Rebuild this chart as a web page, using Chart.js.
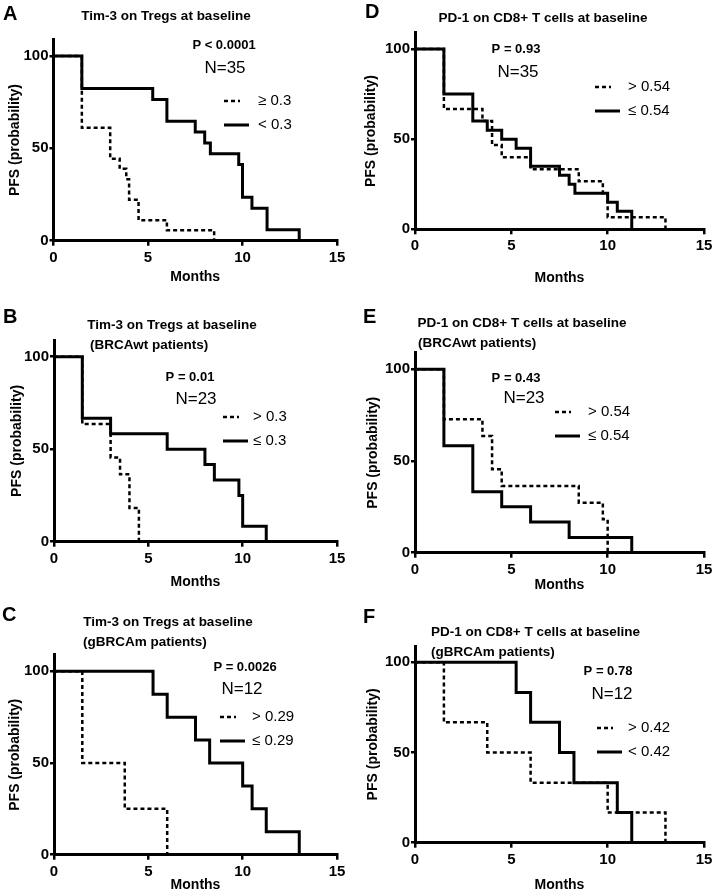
<!DOCTYPE html>
<html>
<head>
<meta charset="utf-8">
<title>PFS by Tim-3 / PD-1 at baseline</title>
<script src="https://cdn.jsdelivr.net/npm/chart.js@4.4.1/dist/chart.umd.min.js"></script>
<style>
	html, body { margin: 0; padding: 0; background: #fff; }
	#wrap { position: relative; width: 716px; height: 895px; overflow: hidden; }
	#wrap canvas { position: absolute; left: 0; top: 0; }
</style>
</head>
<body>
<div id="wrap"></div>
<script>
/* global Chart */
'use strict';

// Axis ticks shared by all six panels.
var monthTicks = [ 0, 5, 10, 15 ];
var pfsTicks   = [ 0, 50, 100 ];

// A - Tim-3 on Tregs, all patients.
var aHighT = [ 0, 1.5, 3, 3.5, 3.85, 4, 4.5, 6, 8.5 ];
var aHighS = [ 100, 61.1, 44.4, 38.9, 33.3, 22.2, 11.1, 5.6, 0 ];
var aLowT  = [ 0, 1.5, 5.25, 6, 7.5, 8, 8.3, 9.8, 10, 10.5, 11.3, 13 ];
var aLowS  = [ 100, 82.4, 76.5, 64.7, 58.8, 52.9, 47.1, 41.2, 23.5, 17.6, 5.9, 0 ];

// D - PD-1 on CD8+ T cells, all patients.
var dHighT = [ 0, 1.5, 3.5, 4, 4.5, 6, 8.5, 9.75, 10, 13 ];
var dHighS = [ 100, 66.7, 60, 46.7, 40, 33.3, 26.7, 20, 6.7, 0 ];
var dLowT  = [ 0, 1.5, 3, 3.75, 4.5, 5.25, 6, 7.5, 8, 8.3, 10, 10.5, 11.25 ];
var dLowS  = [ 100, 75, 60, 55, 50, 45, 35, 30, 25, 20, 15, 10, 0 ];

// B - Tim-3 on Tregs, BRCAwt.
var bHighT = [ 0, 1.5, 3, 3.5, 4, 4.5 ];
var bHighS = [ 100, 63.6, 45.5, 36.4, 18.2, 0 ];
var bLowT  = [ 0, 1.5, 3, 6, 8, 8.5, 9.8, 10, 11.25 ];
var bLowS  = [ 100, 66.7, 58.3, 50, 41.7, 33.3, 25, 8.3, 0 ];

// E - PD-1 on CD8+ T cells, BRCAwt.
var eHighT = [ 0, 1.5, 3.5, 4, 4.5, 8.5, 9.75, 10 ];
var eHighS = [ 100, 72.7, 63.6, 45.5, 36.4, 27.3, 18.2, 0 ];
var eLowT  = [ 0, 1.5, 3, 4.5, 6, 8, 11.25 ];
var eLowS  = [ 100, 58.3, 33.3, 25, 16.7, 8.3, 0 ];

// C - Tim-3 on Tregs, gBRCAm.
var cHighT = [ 0, 1.5, 3.75, 6 ];
var cHighS = [ 100, 50, 25, 0 ];
var cLowT  = [ 0, 5.25, 6, 7.5, 8.25, 10, 10.5, 11.25, 13 ];
var cLowS  = [ 100, 87.5, 75, 62.5, 50, 37.5, 25, 12.5, 0 ];

// F - PD-1 on CD8+ T cells, gBRCAm.
var fHighT = [ 0, 1.5, 3.75, 6, 10, 13 ];
var fHighS = [ 100, 66.7, 50, 33.3, 16.7, 0 ];
var fLowT  = [ 0, 5.25, 6, 7.5, 8.25, 10.5, 11.25 ];
var fLowS  = [ 100, 83.3, 66.7, 50, 33.3, 16.7, 0 ];

// Texts per panel, order A, D, B, E, C, F.
var panelLetters = [ 'A', 'D', 'B', 'E', 'C', 'F' ];
var panelTitles  = [
	[ 'Tim-3 on Tregs at baseline' ],
	[ 'PD-1 on CD8+ T cells at baseline' ],
	[ 'Tim-3 on Tregs at baseline', '(BRCAwt patients)' ],
	[ 'PD-1 on CD8+ T cells at baseline', '(BRCAwt patients)' ],
	[ 'Tim-3 on Tregs at baseline', '(gBRCAm patients)' ],
	[ 'PD-1 on CD8+ T cells at baseline', '(gBRCAm patients)' ]
];
var pValues    = [ 'P < 0.0001', 'P = 0.93', 'P = 0.01', 'P = 0.43', 'P = 0.0026', 'P = 0.78' ];
var nLabels    = [ 'N=35', 'N=35', 'N=23', 'N=23', 'N=12', 'N=12' ];
var highLabels = [ '\u2265 0.3', '> 0.54', '> 0.3', '> 0.54', '> 0.29', '> 0.42' ];
var lowLabels  = [ '< 0.3', '\u2264 0.54', '\u2264 0.3', '\u2264 0.54', '\u2264 0.29', '< 0.42' ];
var yTitle = 'PFS (probability)';
var xTitle = 'Months';

var FAMILY = '"Liberation Sans", Arial, Helvetica, sans-serif';
var PAGE_W = 716;
var PAGE_H = 895;
var Y_MAX  = 109;

// Where each panel sits on the page.
var layouts = [
	{ x0: 53.5, x15: 337, y0: 240.7, y100: 56, yTitleX: 15, monthsY: 277,
		letter: [ 3, 14 ], title: [ [ 166, 16 ] ], p: [ 224, 45 ], n: [ 225, 68 ], legend: [ 224, 101, 258 ] },
	{ x0: 415, x15: 704, y0: 229.3, y100: 49, yTitleX: 371, monthsY: 278,
		letter: [ 365, 12 ], title: [ [ 543, 18 ] ], p: [ 516, 49 ], n: [ 518, 72 ], legend: [ 595, 87, 628 ] },
	{ x0: 54, x15: 337, y0: 541.7, y100: 356.7, yTitleX: 17, monthsY: 582,
		letter: [ 3, 317 ], title: [ [ 172, 325 ], [ 90, 345 ] ], p: [ 190, 377 ], n: [ 196, 399 ], legend: [ 223, 417, 253 ] },
	{ x0: 415, x15: 704, y0: 552.7, y100: 369.3, yTitleX: 373, monthsY: 585,
		letter: [ 363, 317 ], title: [ [ 522, 323 ], [ 418, 343 ] ], p: [ 516, 378 ], n: [ 524, 398 ], legend: [ 555, 412, 588 ] },
	{ x0: 54, x15: 337, y0: 854.7, y100: 671.3, yTitleX: 15, monthsY: 885,
		letter: [ 2, 615 ], title: [ [ 168, 622 ], [ 83, 642 ] ], p: [ 245, 667 ], n: [ 242, 689 ], legend: [ 220, 717, 252 ] },
	{ x0: 415, x15: 704, y0: 842.7, y100: 662.3, yTitleX: 373, monthsY: 885,
		letter: [ 363, 617 ], title: [ [ 535.5, 632 ], [ 431, 652 ] ], p: [ 608, 671 ], n: [ 612, 694 ], legend: [ 597, 728, 628 ] }
];

var series = [
	[ aHighT, aHighS, aLowT, aLowS ],
	[ dHighT, dHighS, dLowT, dLowS ],
	[ bHighT, bHighS, bLowT, bLowS ],
	[ eHighT, eHighS, eLowT, eLowS ],
	[ cHighT, cHighS, cLowT, cLowS ],
	[ fHighT, fHighS, fLowT, fLowS ]
];

function steps( t, s ) {
	return t.map( function ( v, i ) {
		return { x: v, y: s[ i ] };
	} );
}

// Letter, titles, P / N and the small in-plot legend.
var panelText = {
	id: 'panelText',
	afterDraw: function ( chart, args, o ) {
		var ctx = chart.ctx;
		var lay = o.layout;
		ctx.save();
		ctx.fillStyle = '#000';
		ctx.textBaseline = 'middle';

		ctx.textAlign = 'left';
		ctx.font = 'bold 20px ' + FAMILY;
		ctx.fillText( o.letter, lay.letter[ 0 ], lay.letter[ 1 ] );

		ctx.font = 'bold 13.5px ' + FAMILY;
		o.title.forEach( function ( line, i ) {
			ctx.textAlign = i === 0 ? 'center' : 'left';
			ctx.fillText( line, lay.title[ i ][ 0 ], lay.title[ i ][ 1 ] );
		} );

		ctx.textAlign = 'center';
		ctx.font = 'bold 13px ' + FAMILY;
		ctx.fillText( o.p, lay.p[ 0 ], lay.p[ 1 ] );
		ctx.font = '17px ' + FAMILY;
		ctx.fillText( o.n, lay.n[ 0 ], lay.n[ 1 ] );

		// Legend rows: dashed first, then solid.
		ctx.textAlign = 'left';
		ctx.font = '15px ' + FAMILY;
		chart.data.datasets.forEach( function ( ds, i ) {
			var x = lay.legend[ 0 ];
			var y = lay.legend[ 1 ] + i * 24;
			var len = ds.borderDash.length ? 16 : 25;
			ctx.strokeStyle = '#000';
			ctx.lineWidth = ds.borderWidth;
			ctx.setLineDash( ds.borderDash );
			ctx.beginPath();
			ctx.moveTo( x, y );
			ctx.lineTo( x + len, y );
			ctx.stroke();
			ctx.setLineDash( [] );
			ctx.fillText( ds.label, lay.legend[ 2 ], y );
		} );
		ctx.restore();
	}
};

var wrap = document.getElementById( 'wrap' );

layouts.forEach( function ( lay, k ) {
	var canvas = document.createElement( 'canvas' );
	canvas.width = PAGE_W;
	canvas.height = PAGE_H;
	wrap.appendChild( canvas );

	var top     = lay.y0 - ( lay.y0 - lay.y100 ) * Y_MAX / 100;
	var padLeft = lay.yTitleX - 8.4;
	var yWidth  = lay.x0 - padLeft;
	var padBot  = PAGE_H - lay.monthsY - 8.4;
	var xHeight = PAGE_H - padBot - lay.y0;
	var s = series[ k ];

	var axisFont = { family: FAMILY, size: 15, weight: 'bold' };
	var titleFont = { family: FAMILY, size: 14, weight: 'bold' };

	new Chart( canvas.getContext( '2d' ), {
		type: 'line',
		data: {
			datasets: [ {
				label: highLabels[ k ],
				data: steps( s[ 0 ], s[ 1 ] ),
				stepped: 'before',
				borderColor: '#000',
				borderWidth: 2.5,
				borderDash: [ 4, 3 ],
				pointRadius: 0,
				fill: false,
				order: 1
			}, {
				label: lowLabels[ k ],
				data: steps( s[ 2 ], s[ 3 ] ),
				stepped: 'before',
				borderColor: '#000',
				borderWidth: 3,
				borderDash: [],
				pointRadius: 0,
				fill: false,
				order: 0
			} ]
		},
		options: {
			responsive: false,
			animation: false,
			devicePixelRatio: 1,
			layout: {
				padding: { left: padLeft, top: top, right: PAGE_W - lay.x15, bottom: padBot }
			},
			plugins: {
				legend: { display: false },
				tooltip: { enabled: false },
				panelText: {
					layout: lay,
					letter: panelLetters[ k ],
					title: panelTitles[ k ],
					p: pValues[ k ],
					n: nLabels[ k ]
				}
			},
			scales: {
				x: {
					type: 'linear',
					min: 0,
					max: 15,
					afterBuildTicks: function ( axis ) {
						axis.ticks = monthTicks.map( function ( v ) { return { value: v }; } );
					},
					afterFit: function ( axis ) { axis.height = xHeight; },
					grid: { drawOnChartArea: false, color: '#000', lineWidth: 2.5, tickLength: 5 },
					border: { color: '#000', width: 3 },
					ticks: { color: '#000', font: axisFont, padding: 3, maxRotation: 0 },
					title: { display: true, text: xTitle, color: '#000', font: titleFont, padding: 0 }
				},
				y: {
					type: 'linear',
					min: 0,
					max: Y_MAX,
					afterBuildTicks: function ( axis ) {
						axis.ticks = pfsTicks.map( function ( v ) { return { value: v }; } );
					},
					afterFit: function ( axis ) { axis.width = yWidth; },
					grid: { drawOnChartArea: false, color: '#000', lineWidth: 2.5, tickLength: 4 },
					border: { color: '#000', width: 3 },
					ticks: { color: '#000', font: axisFont, padding: 1 },
					title: { display: true, text: yTitle, color: '#000', font: titleFont, padding: 0 }
				}
			}
		},
		plugins: [ panelText ]
	} );
} );
</script>
</body>
</html>
